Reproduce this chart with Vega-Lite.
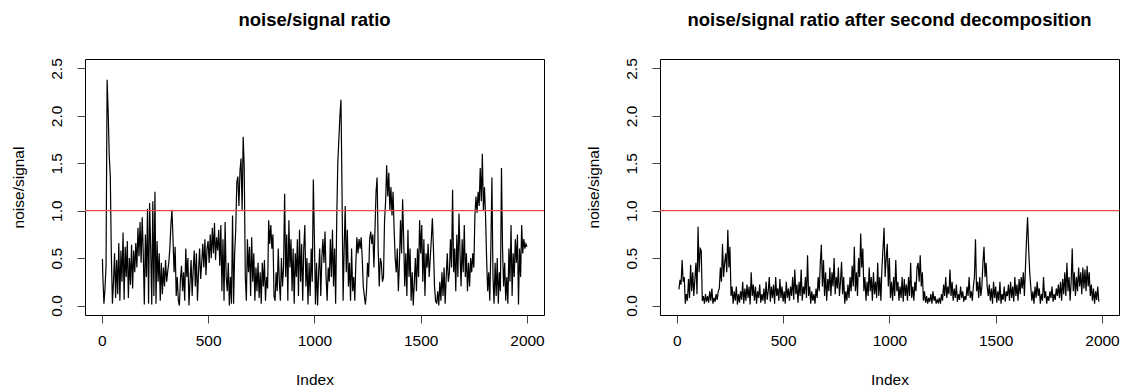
{
"$schema": "https://vega.github.io/schema/vega-lite/v6.json",
"padding": {"left": 10, "top": 10, "right": 5, "bottom": 5},
"background": "white",
"bounds": "flush",
"spacing": 116,
"config": {
  "view": {"stroke": "#000", "strokeWidth": 1},
  "font": "Liberation Sans",
  "axis": {"domain": false, "grid": false, "tickSize": 8, "tickColor": "#444", "labelFont": "Liberation Sans", "labelFontSize": 15.5, "labelColor": "#000", "titleFont": "Liberation Sans", "titleFontSize": 15.5, "titleFontWeight": "normal", "titleColor": "#000", "labelFlush": false, "labelOverlap": false},
  "title": {"font": "Liberation Sans", "fontSize": 18.5, "fontWeight": "bold", "color": "#000", "anchor": "middle", "offset": 28}
},
"datasets": {
"a": [
{"i":3,"v":0.49},{"i":5,"v":0.30},{"i":10,"v":0.02},{"i":15,"v":0.18},{"i":20,"v":0.42},{"i":25,"v":2.38},{"i":30,"v":2.05},{"i":35,"v":1.58},{"i":40,"v":1.36},{"i":45,"v":0.52},
{"i":50,"v":0.02},{"i":55,"v":0.25},{"i":60,"v":0.55},{"i":65,"v":0.08},{"i":70,"v":0.48},{"i":75,"v":0.12},{"i":80,"v":0.66},{"i":85,"v":0.05},{"i":90,"v":0.58},{"i":95,"v":0.25},
{"i":100,"v":0.77},{"i":105,"v":0.06},{"i":110,"v":0.62},{"i":115,"v":0.30},{"i":120,"v":0.68},{"i":125,"v":0.08},{"i":130,"v":0.50},{"i":135,"v":0.22},{"i":140,"v":0.64},{"i":145,"v":0.18},
{"i":150,"v":0.58},{"i":155,"v":0.35},{"i":160,"v":0.66},{"i":165,"v":0.40},{"i":170,"v":0.82},{"i":175,"v":0.52},{"i":180,"v":0.88},{"i":185,"v":0.45},{"i":190,"v":0.93},{"i":195,"v":0.55},
{"i":200,"v":0.01},{"i":205,"v":0.75},{"i":210,"v":0.30},{"i":215,"v":1.02},{"i":220,"v":0.02},{"i":225,"v":1.08},{"i":230,"v":0.60},{"i":235,"v":0.01},{"i":240,"v":1.10},{"i":245,"v":0.10},
{"i":250,"v":1.20},{"i":255,"v":0.02},{"i":260,"v":0.68},{"i":265,"v":0.25},{"i":270,"v":0.55},{"i":275,"v":0.05},{"i":280,"v":0.45},{"i":285,"v":0.12},{"i":290,"v":0.40},{"i":295,"v":0.20},
{"i":300,"v":0.48},{"i":305,"v":0.25},{"i":310,"v":0.36},{"i":315,"v":0.45},{"i":320,"v":0.60},{"i":325,"v":0.85},{"i":330,"v":1.01},{"i":335,"v":0.70},{"i":340,"v":0.35},{"i":345,"v":0.62},
{"i":350,"v":0.10},{"i":355,"v":0.30},{"i":360,"v":0.05},{"i":365,"v":0.00},{"i":370,"v":0.28},{"i":375,"v":0.42},{"i":380,"v":0.15},{"i":385,"v":0.35},{"i":390,"v":0.05},{"i":395,"v":0.60},
{"i":400,"v":0.30},{"i":405,"v":0.50},{"i":410,"v":0.00},{"i":415,"v":0.25},{"i":420,"v":0.48},{"i":425,"v":0.10},{"i":430,"v":0.38},{"i":435,"v":0.58},{"i":440,"v":0.20},{"i":445,"v":0.55},
{"i":450,"v":0.05},{"i":455,"v":0.35},{"i":460,"v":0.60},{"i":465,"v":0.28},{"i":470,"v":0.45},{"i":475,"v":0.65},{"i":480,"v":0.40},{"i":485,"v":0.70},{"i":490,"v":0.32},{"i":495,"v":0.60},
{"i":500,"v":0.68},{"i":505,"v":0.45},{"i":510,"v":0.75},{"i":515,"v":0.50},{"i":520,"v":0.82},{"i":525,"v":0.55},{"i":530,"v":0.87},{"i":535,"v":0.48},{"i":540,"v":0.72},{"i":545,"v":0.58},
{"i":550,"v":0.80},{"i":555,"v":0.42},{"i":560,"v":0.85},{"i":565,"v":0.15},{"i":570,"v":0.70},{"i":575,"v":0.05},{"i":580,"v":0.88},{"i":585,"v":0.30},{"i":590,"v":0.15},{"i":595,"v":0.45},
{"i":600,"v":0.00},{"i":605,"v":0.30},{"i":610,"v":0.02},{"i":615,"v":0.95},{"i":620,"v":0.02},{"i":625,"v":0.55},{"i":630,"v":0.80},{"i":635,"v":1.30},{"i":640,"v":1.36},{"i":645,"v":1.05},
{"i":650,"v":1.42},{"i":655,"v":1.55},{"i":660,"v":1.00},{"i":665,"v":1.78},{"i":670,"v":1.45},{"i":675,"v":0.30},{"i":680,"v":0.05},{"i":685,"v":0.70},{"i":690,"v":0.35},{"i":695,"v":0.62},
{"i":700,"v":0.10},{"i":705,"v":0.72},{"i":710,"v":0.25},{"i":715,"v":0.55},{"i":720,"v":0.05},{"i":725,"v":0.40},{"i":730,"v":0.15},{"i":735,"v":0.45},{"i":740,"v":0.08},{"i":745,"v":0.35},
{"i":750,"v":0.02},{"i":755,"v":0.45},{"i":760,"v":0.20},{"i":765,"v":0.48},{"i":770,"v":0.05},{"i":775,"v":0.30},{"i":780,"v":0.18},{"i":785,"v":0.90},{"i":790,"v":0.65},{"i":795,"v":0.85},
{"i":800,"v":0.60},{"i":805,"v":0.75},{"i":810,"v":0.10},{"i":815,"v":0.05},{"i":820,"v":0.35},{"i":825,"v":0.15},{"i":830,"v":0.60},{"i":835,"v":0.25},{"i":840,"v":0.05},{"i":845,"v":0.50},
{"i":850,"v":0.20},{"i":855,"v":0.40},{"i":860,"v":1.18},{"i":865,"v":0.30},{"i":870,"v":0.75},{"i":875,"v":0.05},{"i":880,"v":0.90},{"i":885,"v":0.40},{"i":890,"v":0.70},{"i":895,"v":0.15},
{"i":900,"v":0.60},{"i":905,"v":0.02},{"i":910,"v":0.55},{"i":915,"v":0.30},{"i":920,"v":0.70},{"i":925,"v":0.10},{"i":930,"v":0.80},{"i":935,"v":0.25},{"i":940,"v":0.65},{"i":945,"v":0.05},
{"i":950,"v":0.60},{"i":955,"v":0.85},{"i":960,"v":0.20},{"i":965,"v":0.50},{"i":970,"v":0.01},{"i":975,"v":0.45},{"i":980,"v":0.10},{"i":985,"v":0.60},{"i":990,"v":0.25},{"i":995,"v":1.33},
{"i":1000,"v":0.70},{"i":1005,"v":0.01},{"i":1010,"v":0.45},{"i":1015,"v":0.00},{"i":1020,"v":0.35},{"i":1025,"v":0.60},{"i":1030,"v":0.10},{"i":1035,"v":0.50},{"i":1040,"v":0.70},{"i":1045,"v":0.45},
{"i":1050,"v":0.78},{"i":1055,"v":0.30},{"i":1060,"v":0.05},{"i":1065,"v":0.40},{"i":1070,"v":0.25},{"i":1075,"v":0.70},{"i":1080,"v":0.30},{"i":1085,"v":0.80},{"i":1090,"v":0.20},{"i":1095,"v":0.60},
{"i":1100,"v":0.02},{"i":1105,"v":0.90},{"i":1110,"v":1.50},{"i":1115,"v":1.75},{"i":1120,"v":2.00},{"i":1125,"v":2.17},{"i":1130,"v":1.20},{"i":1135,"v":0.05},{"i":1140,"v":0.60},{"i":1145,"v":1.05},
{"i":1150,"v":0.35},{"i":1155,"v":0.80},{"i":1160,"v":0.20},{"i":1165,"v":0.45},{"i":1170,"v":0.05},{"i":1175,"v":0.60},{"i":1180,"v":0.15},{"i":1185,"v":0.30},{"i":1190,"v":0.05},{"i":1195,"v":0.45},
{"i":1200,"v":0.72},{"i":1205,"v":0.55},{"i":1210,"v":0.70},{"i":1215,"v":0.60},{"i":1220,"v":0.72},{"i":1225,"v":0.50},{"i":1230,"v":0.20},{"i":1235,"v":0.10},{"i":1240,"v":0.01},{"i":1245,"v":0.15},
{"i":1250,"v":0.45},{"i":1255,"v":0.30},{"i":1260,"v":0.70},{"i":1265,"v":0.78},{"i":1270,"v":0.65},{"i":1275,"v":0.75},{"i":1280,"v":0.40},{"i":1285,"v":0.80},{"i":1290,"v":1.20},{"i":1295,"v":1.35},
{"i":1300,"v":0.60},{"i":1305,"v":0.20},{"i":1310,"v":0.50},{"i":1315,"v":0.45},{"i":1320,"v":0.25},{"i":1325,"v":0.30},{"i":1330,"v":0.90},{"i":1335,"v":1.10},{"i":1340,"v":1.48},{"i":1345,"v":1.15},
{"i":1350,"v":1.40},{"i":1355,"v":1.00},{"i":1360,"v":1.25},{"i":1365,"v":0.95},{"i":1370,"v":1.20},{"i":1375,"v":0.80},{"i":1380,"v":0.50},{"i":1385,"v":0.35},{"i":1390,"v":0.60},{"i":1395,"v":0.15},
{"i":1400,"v":0.45},{"i":1405,"v":0.90},{"i":1410,"v":0.55},{"i":1415,"v":1.12},{"i":1420,"v":0.70},{"i":1425,"v":0.20},{"i":1430,"v":0.55},{"i":1435,"v":0.10},{"i":1440,"v":0.80},{"i":1445,"v":0.30},
{"i":1450,"v":0.60},{"i":1455,"v":0.05},{"i":1460,"v":0.35},{"i":1465,"v":0.00},{"i":1470,"v":0.25},{"i":1475,"v":0.50},{"i":1480,"v":0.15},{"i":1485,"v":0.60},{"i":1490,"v":0.30},{"i":1495,"v":0.90},
{"i":1500,"v":0.55},{"i":1505,"v":0.85},{"i":1510,"v":0.25},{"i":1515,"v":0.70},{"i":1520,"v":0.10},{"i":1525,"v":0.55},{"i":1530,"v":0.40},{"i":1535,"v":0.65},{"i":1540,"v":0.30},{"i":1545,"v":0.50},
{"i":1550,"v":0.70},{"i":1555,"v":0.92},{"i":1560,"v":0.60},{"i":1565,"v":0.20},{"i":1570,"v":0.05},{"i":1575,"v":0.02},{"i":1580,"v":0.15},{"i":1585,"v":0.00},{"i":1590,"v":0.25},{"i":1595,"v":0.05},
{"i":1600,"v":0.35},{"i":1605,"v":0.10},{"i":1610,"v":0.40},{"i":1615,"v":0.02},{"i":1620,"v":0.30},{"i":1625,"v":0.55},{"i":1630,"v":0.25},{"i":1635,"v":0.35},{"i":1640,"v":0.70},{"i":1645,"v":0.40},
{"i":1650,"v":1.22},{"i":1655,"v":0.35},{"i":1660,"v":0.60},{"i":1665,"v":0.15},{"i":1670,"v":0.75},{"i":1675,"v":0.30},{"i":1680,"v":0.97},{"i":1685,"v":0.55},{"i":1690,"v":0.20},{"i":1695,"v":0.70},
{"i":1700,"v":0.35},{"i":1705,"v":0.85},{"i":1710,"v":0.30},{"i":1715,"v":0.55},{"i":1720,"v":0.15},{"i":1725,"v":0.45},{"i":1730,"v":0.20},{"i":1735,"v":0.50},{"i":1740,"v":0.35},{"i":1745,"v":0.55},
{"i":1750,"v":0.40},{"i":1755,"v":0.95},{"i":1760,"v":1.15},{"i":1765,"v":0.98},{"i":1770,"v":1.20},{"i":1775,"v":1.05},{"i":1780,"v":1.45},{"i":1785,"v":1.10},{"i":1790,"v":1.60},{"i":1795,"v":1.00},
{"i":1800,"v":1.25},{"i":1805,"v":0.95},{"i":1810,"v":0.50},{"i":1815,"v":0.15},{"i":1820,"v":0.35},{"i":1825,"v":0.05},{"i":1830,"v":0.60},{"i":1835,"v":1.35},{"i":1840,"v":0.30},{"i":1845,"v":0.02},
{"i":1850,"v":0.45},{"i":1855,"v":0.10},{"i":1860,"v":0.50},{"i":1865,"v":0.02},{"i":1870,"v":0.35},{"i":1875,"v":0.15},{"i":1880,"v":1.45},{"i":1885,"v":0.60},{"i":1890,"v":0.20},{"i":1895,"v":0.45},
{"i":1900,"v":0.05},{"i":1905,"v":0.30},{"i":1910,"v":0.02},{"i":1915,"v":0.60},{"i":1920,"v":0.25},{"i":1925,"v":0.85},{"i":1930,"v":0.10},{"i":1935,"v":0.55},{"i":1940,"v":0.30},{"i":1945,"v":0.70},
{"i":1950,"v":0.45},{"i":1955,"v":0.75},{"i":1960,"v":0.01},{"i":1965,"v":0.60},{"i":1970,"v":0.30},{"i":1975,"v":0.85},{"i":1980,"v":0.55},{"i":1985,"v":0.70},{"i":1990,"v":0.60},{"i":1995,"v":0.65},{"i":2000,"v":0.62}
],
"b": [
{"i":10,"v":0.17},{"i":15,"v":0.27},{"i":20,"v":0.22},{"i":25,"v":0.48},{"i":30,"v":0.25},{"i":35,"v":0.30},{"i":40,"v":0.02},{"i":45,"v":0.12},
{"i":50,"v":0.05},{"i":55,"v":0.28},{"i":60,"v":0.08},{"i":65,"v":0.43},{"i":70,"v":0.15},{"i":75,"v":0.35},{"i":80,"v":0.10},{"i":85,"v":0.28},{"i":90,"v":0.45},{"i":95,"v":0.12},
{"i":100,"v":0.83},{"i":105,"v":0.35},{"i":110,"v":0.60},{"i":115,"v":0.58},{"i":120,"v":0.05},{"i":125,"v":0.10},{"i":130,"v":0.02},{"i":135,"v":0.12},{"i":140,"v":0.04},{"i":145,"v":0.10},
{"i":150,"v":0.03},{"i":155,"v":0.15},{"i":160,"v":0.05},{"i":165,"v":0.18},{"i":170,"v":0.02},{"i":175,"v":0.08},{"i":180,"v":0.04},{"i":185,"v":0.12},{"i":190,"v":0.06},{"i":195,"v":0.15},
{"i":200,"v":0.18},{"i":205,"v":0.40},{"i":210,"v":0.25},{"i":215,"v":0.65},{"i":220,"v":0.30},{"i":225,"v":0.45},{"i":230,"v":0.55},{"i":235,"v":0.35},{"i":240,"v":0.80},{"i":245,"v":0.40},
{"i":250,"v":0.62},{"i":255,"v":0.10},{"i":260,"v":0.20},{"i":265,"v":0.02},{"i":270,"v":0.15},{"i":275,"v":0.05},{"i":280,"v":0.20},{"i":285,"v":0.01},{"i":290,"v":0.12},{"i":295,"v":0.03},
{"i":300,"v":0.15},{"i":305,"v":0.06},{"i":310,"v":0.25},{"i":315,"v":0.02},{"i":320,"v":0.18},{"i":325,"v":0.05},{"i":330,"v":0.22},{"i":335,"v":0.08},{"i":340,"v":0.20},{"i":345,"v":0.01},
{"i":350,"v":0.35},{"i":355,"v":0.10},{"i":360,"v":0.22},{"i":365,"v":0.05},{"i":370,"v":0.20},{"i":375,"v":0.02},{"i":380,"v":0.15},{"i":385,"v":0.08},{"i":390,"v":0.22},{"i":395,"v":0.03},
{"i":400,"v":0.12},{"i":405,"v":0.05},{"i":410,"v":0.18},{"i":415,"v":0.02},{"i":420,"v":0.25},{"i":425,"v":0.06},{"i":430,"v":0.15},{"i":435,"v":0.30},{"i":440,"v":0.04},{"i":445,"v":0.20},
{"i":450,"v":0.08},{"i":455,"v":0.22},{"i":460,"v":0.02},{"i":465,"v":0.30},{"i":470,"v":0.10},{"i":475,"v":0.18},{"i":480,"v":0.05},{"i":485,"v":0.28},{"i":490,"v":0.08},{"i":495,"v":0.20},
{"i":500,"v":0.04},{"i":505,"v":0.15},{"i":510,"v":0.02},{"i":515,"v":0.25},{"i":520,"v":0.08},{"i":525,"v":0.18},{"i":530,"v":0.05},{"i":535,"v":0.20},{"i":540,"v":0.10},{"i":545,"v":0.30},
{"i":550,"v":0.06},{"i":555,"v":0.38},{"i":560,"v":0.12},{"i":565,"v":0.22},{"i":570,"v":0.03},{"i":575,"v":0.25},{"i":580,"v":0.10},{"i":585,"v":0.38},{"i":590,"v":0.05},{"i":595,"v":0.20},
{"i":600,"v":0.12},{"i":605,"v":0.30},{"i":610,"v":0.08},{"i":615,"v":0.53},{"i":620,"v":0.10},{"i":625,"v":0.20},{"i":630,"v":0.02},{"i":635,"v":0.15},{"i":640,"v":0.05},{"i":645,"v":0.12},
{"i":650,"v":0.02},{"i":655,"v":0.18},{"i":660,"v":0.08},{"i":665,"v":0.30},{"i":670,"v":0.15},{"i":675,"v":0.45},{"i":680,"v":0.64},{"i":685,"v":0.20},{"i":690,"v":0.48},{"i":695,"v":0.10},
{"i":700,"v":0.35},{"i":705,"v":0.05},{"i":710,"v":0.28},{"i":715,"v":0.15},{"i":720,"v":0.40},{"i":725,"v":0.10},{"i":730,"v":0.35},{"i":735,"v":0.20},{"i":740,"v":0.50},{"i":745,"v":0.12},
{"i":750,"v":0.30},{"i":755,"v":0.18},{"i":760,"v":0.40},{"i":765,"v":0.10},{"i":770,"v":0.25},{"i":775,"v":0.46},{"i":780,"v":0.12},{"i":785,"v":0.30},{"i":790,"v":0.02},{"i":795,"v":0.15},
{"i":800,"v":0.05},{"i":805,"v":0.22},{"i":810,"v":0.08},{"i":815,"v":0.30},{"i":820,"v":0.15},{"i":825,"v":0.42},{"i":830,"v":0.20},{"i":835,"v":0.62},{"i":840,"v":0.15},{"i":845,"v":0.35},
{"i":850,"v":0.10},{"i":855,"v":0.50},{"i":860,"v":0.30},{"i":865,"v":0.76},{"i":870,"v":0.40},{"i":875,"v":0.60},{"i":880,"v":0.15},{"i":885,"v":0.30},{"i":890,"v":0.05},{"i":895,"v":0.25},
{"i":900,"v":0.10},{"i":905,"v":0.40},{"i":910,"v":0.15},{"i":915,"v":0.30},{"i":920,"v":0.05},{"i":925,"v":0.35},{"i":930,"v":0.12},{"i":935,"v":0.25},{"i":940,"v":0.08},{"i":945,"v":0.45},
{"i":950,"v":0.10},{"i":955,"v":0.30},{"i":960,"v":0.05},{"i":965,"v":0.40},{"i":970,"v":0.60},{"i":975,"v":0.82},{"i":980,"v":0.30},{"i":985,"v":0.50},{"i":990,"v":0.65},{"i":995,"v":0.20},
{"i":1000,"v":0.50},{"i":1005,"v":0.08},{"i":1010,"v":0.25},{"i":1015,"v":0.05},{"i":1020,"v":0.30},{"i":1025,"v":0.10},{"i":1030,"v":0.48},{"i":1035,"v":0.15},{"i":1040,"v":0.25},{"i":1045,"v":0.05},
{"i":1050,"v":0.20},{"i":1055,"v":0.08},{"i":1060,"v":0.30},{"i":1065,"v":0.04},{"i":1070,"v":0.28},{"i":1075,"v":0.10},{"i":1080,"v":0.22},{"i":1085,"v":0.05},{"i":1090,"v":0.30},{"i":1095,"v":0.10},
{"i":1100,"v":0.45},{"i":1105,"v":0.08},{"i":1110,"v":0.20},{"i":1115,"v":0.05},{"i":1120,"v":0.25},{"i":1125,"v":0.15},{"i":1130,"v":0.40},{"i":1135,"v":0.45},{"i":1140,"v":0.25},{"i":1145,"v":0.53},
{"i":1150,"v":0.20},{"i":1155,"v":0.35},{"i":1160,"v":0.05},{"i":1165,"v":0.15},{"i":1170,"v":0.03},{"i":1175,"v":0.10},{"i":1180,"v":0.02},{"i":1185,"v":0.08},{"i":1190,"v":0.04},{"i":1195,"v":0.12},
{"i":1200,"v":0.02},{"i":1205,"v":0.15},{"i":1210,"v":0.05},{"i":1215,"v":0.10},{"i":1220,"v":0.02},{"i":1225,"v":0.06},{"i":1230,"v":0.03},{"i":1235,"v":0.08},{"i":1240,"v":0.02},{"i":1245,"v":0.12},
{"i":1250,"v":0.05},{"i":1255,"v":0.22},{"i":1260,"v":0.10},{"i":1265,"v":0.30},{"i":1270,"v":0.08},{"i":1275,"v":0.20},{"i":1280,"v":0.12},{"i":1285,"v":0.38},{"i":1290,"v":0.10},{"i":1295,"v":0.25},
{"i":1300,"v":0.05},{"i":1305,"v":0.18},{"i":1310,"v":0.08},{"i":1315,"v":0.22},{"i":1320,"v":0.04},{"i":1325,"v":0.12},{"i":1330,"v":0.06},{"i":1335,"v":0.20},{"i":1340,"v":0.08},{"i":1345,"v":0.15},
{"i":1350,"v":0.04},{"i":1355,"v":0.10},{"i":1360,"v":0.06},{"i":1365,"v":0.20},{"i":1370,"v":0.10},{"i":1375,"v":0.30},{"i":1380,"v":0.08},{"i":1385,"v":0.15},{"i":1390,"v":0.05},{"i":1395,"v":0.20},
{"i":1400,"v":0.30},{"i":1405,"v":0.70},{"i":1410,"v":0.15},{"i":1415,"v":0.25},{"i":1420,"v":0.08},{"i":1425,"v":0.30},{"i":1430,"v":0.10},{"i":1435,"v":0.20},{"i":1440,"v":0.45},{"i":1445,"v":0.62},
{"i":1450,"v":0.30},{"i":1455,"v":0.45},{"i":1460,"v":0.20},{"i":1465,"v":0.10},{"i":1470,"v":0.22},{"i":1475,"v":0.05},{"i":1480,"v":0.18},{"i":1485,"v":0.02},{"i":1490,"v":0.25},{"i":1495,"v":0.08},
{"i":1500,"v":0.20},{"i":1505,"v":0.03},{"i":1510,"v":0.15},{"i":1515,"v":0.05},{"i":1520,"v":0.25},{"i":1525,"v":0.02},{"i":1530,"v":0.12},{"i":1535,"v":0.06},{"i":1540,"v":0.20},{"i":1545,"v":0.04},
{"i":1550,"v":0.15},{"i":1555,"v":0.10},{"i":1560,"v":0.22},{"i":1565,"v":0.05},{"i":1570,"v":0.25},{"i":1575,"v":0.08},{"i":1580,"v":0.20},{"i":1585,"v":0.04},{"i":1590,"v":0.30},{"i":1595,"v":0.10},
{"i":1600,"v":0.22},{"i":1605,"v":0.05},{"i":1610,"v":0.28},{"i":1615,"v":0.12},{"i":1620,"v":0.30},{"i":1625,"v":0.18},{"i":1630,"v":0.35},{"i":1635,"v":0.10},{"i":1640,"v":0.40},{"i":1645,"v":0.70},
{"i":1650,"v":0.93},{"i":1655,"v":0.60},{"i":1660,"v":0.35},{"i":1665,"v":0.20},{"i":1670,"v":0.05},{"i":1675,"v":0.15},{"i":1680,"v":0.02},{"i":1685,"v":0.20},{"i":1690,"v":0.08},{"i":1695,"v":0.25},
{"i":1700,"v":0.10},{"i":1705,"v":0.18},{"i":1710,"v":0.02},{"i":1715,"v":0.12},{"i":1720,"v":0.05},{"i":1725,"v":0.30},{"i":1730,"v":0.08},{"i":1735,"v":0.15},{"i":1740,"v":0.02},{"i":1745,"v":0.10},
{"i":1750,"v":0.05},{"i":1755,"v":0.15},{"i":1760,"v":0.08},{"i":1765,"v":0.20},{"i":1770,"v":0.04},{"i":1775,"v":0.12},{"i":1780,"v":0.06},{"i":1785,"v":0.18},{"i":1790,"v":0.10},{"i":1795,"v":0.22},
{"i":1800,"v":0.08},{"i":1805,"v":0.25},{"i":1810,"v":0.05},{"i":1815,"v":0.28},{"i":1820,"v":0.12},{"i":1825,"v":0.35},{"i":1830,"v":0.10},{"i":1835,"v":0.45},{"i":1840,"v":0.15},{"i":1845,"v":0.30},
{"i":1850,"v":0.05},{"i":1855,"v":0.25},{"i":1860,"v":0.60},{"i":1865,"v":0.15},{"i":1870,"v":0.35},{"i":1875,"v":0.10},{"i":1880,"v":0.30},{"i":1885,"v":0.15},{"i":1890,"v":0.40},{"i":1895,"v":0.20},
{"i":1900,"v":0.35},{"i":1905,"v":0.12},{"i":1910,"v":0.40},{"i":1915,"v":0.18},{"i":1920,"v":0.38},{"i":1925,"v":0.15},{"i":1930,"v":0.42},{"i":1935,"v":0.20},{"i":1940,"v":0.35},{"i":1945,"v":0.10},
{"i":1950,"v":0.22},{"i":1955,"v":0.05},{"i":1960,"v":0.18},{"i":1965,"v":0.02},{"i":1970,"v":0.15},{"i":1975,"v":0.06},{"i":1980,"v":0.20},{"i":1985,"v":0.04}
],
"ref": [{"h": 1}]
},
"hconcat": [
{
  "width": 459, "height": 256,
  "title": {"text": "noise/signal ratio"},
  "layer": [
    {"data": {"name": "a"}, "mark": {"type": "line", "color": "#000", "strokeWidth": 1.2, "interpolate": "linear"},
     "encoding": {
       "x": {"field": "i", "type": "quantitative", "scale": {"domain": [-79, 2080], "nice": false, "zero": false},
             "axis": {"values": [0, 500, 1000, 1500, 2000], "format": "d", "labelPadding": 10, "title": "Index", "titlePadding": 24}},
       "y": {"field": "v", "type": "quantitative", "scale": {"domain": [-0.1, 2.6], "nice": false, "zero": false},
             "axis": {"values": [0, 0.5, 1, 1.5, 2, 2.5], "format": ".1f", "labelAngle": 270, "labelAlign": "center", "labelBaseline": "alphabetic", "labelPadding": 16, "title": "noise/signal", "titlePadding": 23}}
     }},
    {"data": {"name": "ref"}, "mark": {"type": "rule", "color": "#f04848", "strokeWidth": 1.2},
     "encoding": {"y": {"field": "h", "type": "quantitative"}}}
  ]
},
{
  "width": 459, "height": 256,
  "title": {"text": "noise/signal ratio after second decomposition"},
  "layer": [
    {"data": {"name": "b"}, "mark": {"type": "line", "color": "#000", "strokeWidth": 1.2, "interpolate": "linear"},
     "encoding": {
       "x": {"field": "i", "type": "quantitative", "scale": {"domain": [-79, 2080], "nice": false, "zero": false},
             "axis": {"values": [0, 500, 1000, 1500, 2000], "format": "d", "labelPadding": 10, "title": "Index", "titlePadding": 24}},
       "y": {"field": "v", "type": "quantitative", "scale": {"domain": [-0.1, 2.6], "nice": false, "zero": false},
             "axis": {"values": [0, 0.5, 1, 1.5, 2, 2.5], "format": ".1f", "labelAngle": 270, "labelAlign": "center", "labelBaseline": "alphabetic", "labelPadding": 16, "title": "noise/signal", "titlePadding": 23}}
     }},
    {"data": {"name": "ref"}, "mark": {"type": "rule", "color": "#f04848", "strokeWidth": 1.2},
     "encoding": {"y": {"field": "h", "type": "quantitative"}}}
  ]
}
]
}
